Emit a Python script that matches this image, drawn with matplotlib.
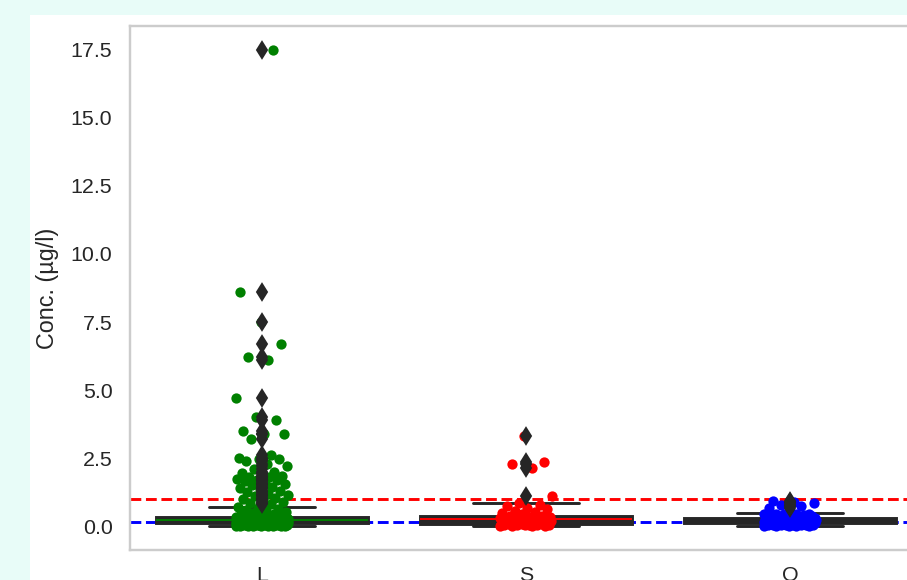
import numpy as np
import matplotlib
matplotlib.use('Agg')
import matplotlib.pyplot as plt
import seaborn as sns
from matplotlib.patches import Rectangle

sns.set_theme(style='whitegrid', context='notebook')
plt.rcParams['font.family'] = ['Liberation Sans', 'DejaVu Sans']

# --- data (µg/l) ---
categories = ['L', 'S', 'O']
colors = ['green', 'red', 'blue']

conc_L = [
    0.00, 0.00, 0.01, 0.01, 0.01, 0.02, 0.02, 0.02, 0.02, 0.03, 0.03, 0.03, 0.03,
    0.04, 0.04, 0.04, 0.04, 0.05, 0.05, 0.05, 0.05, 0.05, 0.06, 0.06, 0.06, 0.06,
    0.06, 0.07, 0.07, 0.07, 0.07, 0.07, 0.08, 0.08, 0.08, 0.08, 0.08, 0.08, 0.09,
    0.09, 0.09, 0.09, 0.09, 0.09, 0.10, 0.10, 0.10, 0.10, 0.10, 0.10, 0.10, 0.11,
    0.11, 0.11, 0.11, 0.11, 0.11, 0.11, 0.11, 0.12,
    0.12, 0.12, 0.12, 0.12, 0.12, 0.13, 0.13, 0.13, 0.13, 0.13, 0.13, 0.14, 0.14,
    0.14, 0.14, 0.14, 0.14, 0.15, 0.15, 0.15, 0.15, 0.15, 0.15, 0.16, 0.16, 0.16,
    0.16, 0.16, 0.16, 0.17, 0.17, 0.17, 0.17, 0.17, 0.17, 0.18, 0.18, 0.18, 0.18,
    0.18, 0.18, 0.19, 0.19, 0.19, 0.19, 0.19, 0.19, 0.20, 0.20, 0.20, 0.20, 0.20,
    0.20, 0.21, 0.21, 0.21, 0.21, 0.21, 0.22, 0.22,
    0.22, 0.22, 0.22, 0.22, 0.23, 0.23, 0.23, 0.23, 0.23, 0.23, 0.24, 0.24, 0.24,
    0.24, 0.24, 0.24, 0.25, 0.25, 0.25, 0.25, 0.25, 0.25, 0.26, 0.26, 0.26, 0.26,
    0.26, 0.26, 0.27, 0.27, 0.27, 0.27, 0.27, 0.27, 0.28, 0.28, 0.28, 0.28, 0.28,
    0.28, 0.29, 0.29, 0.29, 0.29, 0.29, 0.29, 0.30, 0.30, 0.30, 0.30, 0.30, 0.30,
    0.31, 0.31, 0.31, 0.31, 0.31, 0.32, 0.32, 0.32,
    0.34, 0.37, 0.40, 0.43, 0.46, 0.49, 0.52, 0.55, 0.59, 0.63, 0.67, 0.72,
    0.82, 0.85, 0.90, 0.95, 1.00, 1.05, 1.10, 1.15, 1.20, 1.25, 1.30, 1.35, 1.40,
    1.45, 1.50, 1.55, 1.60, 1.65, 1.70, 1.70, 1.75, 1.80, 1.80, 1.85, 1.90, 1.95,
    2.00, 2.10, 2.20, 2.30, 2.40, 2.45, 2.45, 2.50, 2.60,
    3.20, 3.40, 3.40, 3.50, 3.90, 4.00, 4.70, 6.10, 6.20, 6.70, 7.50, 8.60, 17.50,
]

conc_S = [
    0.00, 0.01, 0.02, 0.02, 0.03, 0.04, 0.04, 0.05, 0.06, 0.06, 0.07, 0.07, 0.08,
    0.08, 0.09,
    0.09, 0.11, 0.13, 0.15, 0.17, 0.19, 0.20, 0.21, 0.22, 0.23, 0.24, 0.25, 0.26,
    0.27, 0.28,
    0.28, 0.29, 0.29, 0.30, 0.30, 0.31, 0.31, 0.32, 0.32, 0.33, 0.33, 0.34, 0.35,
    0.35, 0.36,
    0.39, 0.43, 0.47, 0.52, 0.57, 0.62, 0.68, 0.73, 0.79, 0.84,
    1.10, 2.15, 2.30, 2.35, 3.30,
]

conc_O = [
    0.00, 0.01, 0.01, 0.02, 0.02, 0.03, 0.03, 0.04, 0.04, 0.05, 0.05, 0.06, 0.06,
    0.07, 0.07, 0.08, 0.08, 0.09, 0.09, 0.10, 0.10, 0.11, 0.11, 0.12, 0.12,
    0.12, 0.13, 0.13, 0.13, 0.14, 0.14, 0.14, 0.15, 0.15, 0.15, 0.16, 0.16, 0.16,
    0.17, 0.17, 0.17, 0.18, 0.18, 0.18, 0.19, 0.19, 0.19, 0.20, 0.20, 0.20,
    0.20, 0.21, 0.21, 0.21, 0.22, 0.22, 0.22, 0.23, 0.23, 0.23, 0.24, 0.24, 0.24,
    0.25, 0.25, 0.25, 0.26, 0.26, 0.26, 0.27, 0.27, 0.28, 0.28, 0.29, 0.29,
    0.30, 0.31, 0.32, 0.33, 0.34, 0.35, 0.36, 0.37, 0.38, 0.39, 0.40, 0.41, 0.42,
    0.43, 0.44, 0.45, 0.46, 0.46, 0.47,
    0.68, 0.74, 0.79, 0.84, 0.88, 0.93,
]

limit_upper = 1.0   # red dashed reference
limit_lower = 0.15  # blue dashed reference

groups = [conc_L, conc_S, conc_O]
dark = '#262626'

# --- figure: page background with the white figure canvas inset ---
W, H, DPI = 907, 580, 140
fig = plt.figure(figsize=(W / DPI, H / DPI), dpi=DPI, facecolor='#e8fcf8')
fig.add_artist(Rectangle((30 / W, 0), 1, (H - 15) / H, transform=fig.transFigure,
                         facecolor='white', edgecolor='none', zorder=0))
ax = fig.add_axes([130 / W, 30 / H, 792 / W, 524 / H])
ax.set_facecolor('white')

positions = np.arange(len(categories))

bp = ax.boxplot(groups, positions=positions, widths=0.8, whis=2.0,
                patch_artist=True, zorder=2,
                boxprops=dict(facecolor=dark, edgecolor=dark, linewidth=1.5),
                whiskerprops=dict(color=dark, linewidth=1.5),
                capprops=dict(color=dark, linewidth=1.5),
                medianprops=dict(linewidth=1.0),
                flierprops=dict(marker='d', markerfacecolor=dark, markeredgecolor=dark,
                                markersize=5.5, markeredgewidth=1.0))
for med, c in zip(bp['medians'], ['green', 'red', dark]):
    med.set_color(c)
for fl in bp['fliers']:
    fl.set_zorder(4)

# strip points with a deterministic jitter
for pos, vals, c in zip(positions, groups, colors):
    idx = np.arange(len(vals))
    jitter = ((idx * 0.6180339887) % 1.0 - 0.5) * 0.2
    ax.scatter(pos + jitter, vals, s=28, color=c, linewidths=0, zorder=3)

ax.axhline(limit_upper, color='red', linestyle='--', linewidth=1.5, zorder=1.5)
ax.axhline(limit_lower, color='blue', linestyle='--', linewidth=1.5, zorder=1.5)

ax.set_xlim(-0.5, 2.5)
ax.set_xticks(positions)
ax.set_xticklabels(categories)
ax.grid(False)
ax.set_ylabel('Conc. (µg/l)', fontsize=12, color=dark)
ax.yaxis.set_label_coords(-0.09, 0.5)
ax.tick_params(axis='y', length=0, pad=9, labelsize=11, colors=dark)
ax.tick_params(axis='x', length=0, pad=8, labelsize=11, colors=dark)
for sp in ax.spines.values():
    sp.set_color('#cccccc')
    sp.set_linewidth(1.25)

fig.savefig('out.png', dpi=DPI, facecolor=fig.get_facecolor())
